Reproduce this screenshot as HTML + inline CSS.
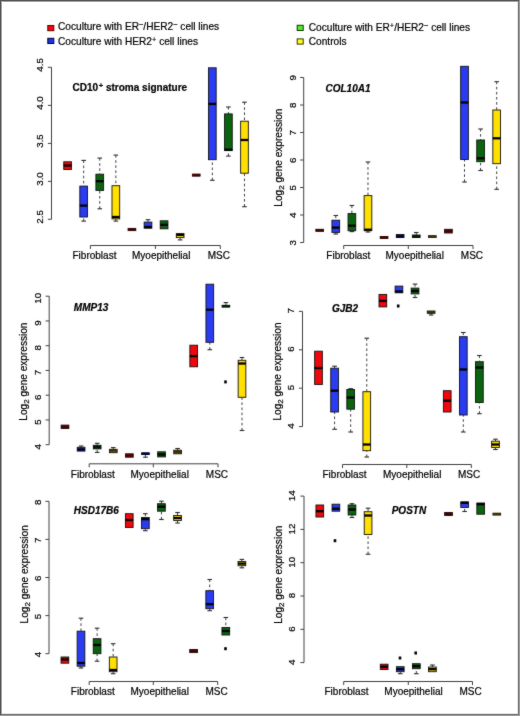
<!DOCTYPE html>
<html><head><meta charset="utf-8"><title>Boxplots</title>
<style>
html,body{margin:0;padding:0;background:#fff;}
body{width:520px;height:716px;overflow:hidden;position:relative;}
#w{position:absolute;left:0;top:0;width:520px;height:716px;will-change:transform;}
svg{position:absolute;left:0;top:0;display:block;font-family:"Liberation Sans", sans-serif;fill:#1a1a1a;}
svg text{fill:#000;stroke:#000;stroke-width:0.2px;}
</style></head>
<body>
<div id="w">
<svg width="520" height="716" viewBox="0 0 520 716">
<defs><filter id="bl" x="0" y="0" width="100%" height="100%" color-interpolation-filters="sRGB"><feConvolveMatrix order="3" kernelMatrix="1 2 1 2 28 2 1 2 1" edgeMode="duplicate" preserveAlpha="true"/></filter></defs>
<g filter="url(#bl)">
<rect x="0" y="0" width="520" height="716" fill="#fff"/>
<rect x="47.8" y="25.5" width="6" height="5.2" fill="#ff0010" stroke="#500" stroke-width="1"/>
<rect x="47.8" y="38.3" width="6" height="5.2" fill="#2030f0" stroke="#003" stroke-width="1"/>
<rect x="297.2" y="25.3" width="6" height="5.2" fill="#50f030" stroke="#130" stroke-width="1"/>
<rect x="297.2" y="38.9" width="6" height="5.2" fill="#ffff20" stroke="#330" stroke-width="1"/>
<text x="58" y="30.0" font-size="10.15">Coculture with ER<tspan font-size="7.4" dy="-3.0">−</tspan><tspan dy="3.0">/HER2</tspan><tspan font-size="7.4" dy="-3.0">−</tspan><tspan dy="3.0"> cell lines</tspan></text>
<text x="58" y="44.7" font-size="10.15">Coculture with HER2<tspan font-size="7.4" dy="-3.0">+</tspan><tspan dy="3.0"> cell lines</tspan></text>
<text x="308.8" y="30.5" font-size="10.15">Coculture with ER<tspan font-size="7.4" dy="-3.0">+</tspan><tspan dy="3.0">/HER2</tspan><tspan font-size="7.4" dy="-3.0">−</tspan><tspan dy="3.0"> cell lines</tspan></text>
<text x="308.8" y="45.2" font-size="10.15">Controls</text>
<path d="M51.5 67.3V219.3" stroke="#404040" stroke-width="1" fill="none"/>
<path d="M47.9 67.3H51.5" stroke="#404040" stroke-width="1"/>
<text x="43.3" y="64.9" transform="rotate(-90 43.3 64.9)" text-anchor="middle" font-size="9.75">4.5</text>
<path d="M47.9 105.4H51.5" stroke="#404040" stroke-width="1"/>
<text x="43.3" y="103" transform="rotate(-90 43.3 103)" text-anchor="middle" font-size="9.75">4.0</text>
<path d="M47.9 143.4H51.5" stroke="#404040" stroke-width="1"/>
<text x="43.3" y="141" transform="rotate(-90 43.3 141)" text-anchor="middle" font-size="9.75">3.5</text>
<path d="M47.9 181.4H51.5" stroke="#404040" stroke-width="1"/>
<text x="43.3" y="179" transform="rotate(-90 43.3 179)" text-anchor="middle" font-size="9.75">3.0</text>
<path d="M47.9 219.3H51.5" stroke="#404040" stroke-width="1"/>
<text x="43.3" y="216.9" transform="rotate(-90 43.3 216.9)" text-anchor="middle" font-size="9.75">2.5</text>
<path d="M90.4 249V245.5H220.3V249M155.4 245.5V249" stroke="#404040" stroke-width="1" fill="none"/>
<text x="72.5" y="258.8" font-size="10">Fibroblast</text>
<text x="132" y="258.8" font-size="10">Myoepithelial</text>
<text x="207.7" y="258.8" font-size="10">MSC</text>
<text x="72.5" y="90.9" font-size="10" font-weight="bold">CD10<tspan font-size="7.6" dx="0.7" dy="-2.6">+</tspan><tspan dy="2.6"> stroma signature</tspan></text>
<rect x="63.75" y="161.8" width="7.7" height="7.7" fill="#f0080c" stroke="#111" stroke-width="0.9"/>
<path d="M63.75 165.5H71.45" stroke="#000" stroke-width="2.3"/>
<path d="M83.68 160.4V186.1" stroke="#2a2a2a" stroke-width="0.9" stroke-dasharray="2.6 2.5" fill="none"/>
<path d="M81.38 160.4H85.98" stroke="#2a2a2a" stroke-width="1.1"/>
<path d="M83.68 221.1V217" stroke="#2a2a2a" stroke-width="0.9" stroke-dasharray="2.6 2.5" fill="none"/>
<path d="M81.38 221.1H85.98" stroke="#2a2a2a" stroke-width="1.1"/>
<rect x="79.83" y="186.1" width="7.7" height="30.9" fill="#2a3cf2" stroke="#111" stroke-width="0.9"/>
<path d="M79.83 205.6H87.53" stroke="#000" stroke-width="2.3"/>
<path d="M99.76 158.1V174.2" stroke="#2a2a2a" stroke-width="0.9" stroke-dasharray="2.6 2.5" fill="none"/>
<path d="M97.46 158.1H102.06" stroke="#2a2a2a" stroke-width="1.1"/>
<path d="M99.76 208.8V190.4" stroke="#2a2a2a" stroke-width="0.9" stroke-dasharray="2.6 2.5" fill="none"/>
<path d="M97.46 208.8H102.06" stroke="#2a2a2a" stroke-width="1.1"/>
<rect x="95.91" y="174.2" width="7.7" height="16.2" fill="#0a640f" stroke="#111" stroke-width="0.9"/>
<path d="M95.91 181.2H103.61" stroke="#000" stroke-width="2.3"/>
<path d="M115.84 155.1V185.7" stroke="#2a2a2a" stroke-width="0.9" stroke-dasharray="2.6 2.5" fill="none"/>
<path d="M113.54 155.1H118.14" stroke="#2a2a2a" stroke-width="1.1"/>
<path d="M115.84 221.1V218.9" stroke="#2a2a2a" stroke-width="0.9" stroke-dasharray="2.6 2.5" fill="none"/>
<path d="M113.54 221.1H118.14" stroke="#2a2a2a" stroke-width="1.1"/>
<rect x="111.99" y="185.7" width="7.7" height="33.2" fill="#ffe000" stroke="#111" stroke-width="0.9"/>
<path d="M111.99 217H119.69" stroke="#000" stroke-width="2.3"/>
<rect x="128.07" y="228.4" width="7.7" height="2.2" fill="#700a0a" stroke="#111" stroke-width="0.9"/>
<path d="M128.07 229.5H135.77" stroke="#4a0000" stroke-width="2.3"/>
<path d="M148 219.7V222.1" stroke="#2a2a2a" stroke-width="0.9" stroke-dasharray="2.6 2.5" fill="none"/>
<path d="M145.7 219.7H150.3" stroke="#2a2a2a" stroke-width="1.1"/>
<rect x="144.15" y="222.1" width="7.7" height="6.1" fill="#2a3cf2" stroke="#111" stroke-width="0.9"/>
<path d="M144.15 227H151.85" stroke="#000" stroke-width="2.3"/>
<rect x="160.23" y="220.8" width="7.7" height="8" fill="#0a640f" stroke="#111" stroke-width="0.9"/>
<path d="M160.23 224.8H167.93" stroke="#000" stroke-width="2.3"/>
<path d="M180.16 239.9V237.6" stroke="#2a2a2a" stroke-width="0.9" stroke-dasharray="2.6 2.5" fill="none"/>
<path d="M177.86 239.9H182.46" stroke="#2a2a2a" stroke-width="1.1"/>
<rect x="176.31" y="233.6" width="7.7" height="4" fill="#ffe000" stroke="#111" stroke-width="0.9"/>
<path d="M176.31 234.9H184.01" stroke="#000" stroke-width="2.3"/>
<rect x="192.39" y="174.1" width="7.7" height="2" fill="#700a0a" stroke="#111" stroke-width="0.9"/>
<path d="M192.39 175.1H200.09" stroke="#4a0000" stroke-width="2.3"/>
<path d="M212.32 180.3V159.7" stroke="#2a2a2a" stroke-width="0.9" stroke-dasharray="2.6 2.5" fill="none"/>
<path d="M210.02 180.3H214.62" stroke="#2a2a2a" stroke-width="1.1"/>
<rect x="208.47" y="67.8" width="7.7" height="91.9" fill="#2a3cf2" stroke="#111" stroke-width="0.9"/>
<path d="M208.47 103.9H216.17" stroke="#000" stroke-width="2.3"/>
<path d="M228.4 107V113.9" stroke="#2a2a2a" stroke-width="0.9" stroke-dasharray="2.6 2.5" fill="none"/>
<path d="M226.1 107H230.7" stroke="#2a2a2a" stroke-width="1.1"/>
<path d="M228.4 156.1V150.6" stroke="#2a2a2a" stroke-width="0.9" stroke-dasharray="2.6 2.5" fill="none"/>
<path d="M226.1 156.1H230.7" stroke="#2a2a2a" stroke-width="1.1"/>
<rect x="224.55" y="113.9" width="7.7" height="36.7" fill="#0a640f" stroke="#111" stroke-width="0.9"/>
<path d="M224.55 149.7H232.25" stroke="#000" stroke-width="2.3"/>
<path d="M244.48 102.2V121.2" stroke="#2a2a2a" stroke-width="0.9" stroke-dasharray="2.6 2.5" fill="none"/>
<path d="M242.18 102.2H246.78" stroke="#2a2a2a" stroke-width="1.1"/>
<path d="M244.48 206.7V173.2" stroke="#2a2a2a" stroke-width="0.9" stroke-dasharray="2.6 2.5" fill="none"/>
<path d="M242.18 206.7H246.78" stroke="#2a2a2a" stroke-width="1.1"/>
<rect x="240.63" y="121.2" width="7.7" height="52" fill="#ffe000" stroke="#111" stroke-width="0.9"/>
<path d="M240.63 140H248.33" stroke="#000" stroke-width="2.3"/>
<path d="M303.7 77.5V242.5" stroke="#404040" stroke-width="1" fill="none"/>
<path d="M300.1 242.5H303.7" stroke="#404040" stroke-width="1"/>
<text x="295.6" y="242.8" transform="rotate(-90 295.6 242.8)" text-anchor="middle" font-size="9.75">3</text>
<path d="M300.1 215H303.7" stroke="#404040" stroke-width="1"/>
<text x="295.6" y="215.3" transform="rotate(-90 295.6 215.3)" text-anchor="middle" font-size="9.75">4</text>
<path d="M300.1 187.5H303.7" stroke="#404040" stroke-width="1"/>
<text x="295.6" y="187.8" transform="rotate(-90 295.6 187.8)" text-anchor="middle" font-size="9.75">5</text>
<path d="M300.1 160H303.7" stroke="#404040" stroke-width="1"/>
<text x="295.6" y="160.3" transform="rotate(-90 295.6 160.3)" text-anchor="middle" font-size="9.75">6</text>
<path d="M300.1 132.5H303.7" stroke="#404040" stroke-width="1"/>
<text x="295.6" y="132.8" transform="rotate(-90 295.6 132.8)" text-anchor="middle" font-size="9.75">7</text>
<path d="M300.1 105H303.7" stroke="#404040" stroke-width="1"/>
<text x="295.6" y="105.3" transform="rotate(-90 295.6 105.3)" text-anchor="middle" font-size="9.75">8</text>
<path d="M300.1 77.5H303.7" stroke="#404040" stroke-width="1"/>
<text x="295.6" y="77.8" transform="rotate(-90 295.6 77.8)" text-anchor="middle" font-size="9.75">9</text>
<text x="281.8" y="157.6" transform="rotate(-90 281.8 157.6)" text-anchor="middle" font-size="10.1">Log<tspan font-size="8" dy="1.9">2</tspan><tspan dy="-1.9"> gene expression</tspan></text>
<path d="M343.7 249V245.5H473V249M408.3 245.5V249" stroke="#404040" stroke-width="1" fill="none"/>
<text x="326.3" y="258.8" font-size="10">Fibroblast</text>
<text x="385.5" y="258.8" font-size="10">Myoepithelial</text>
<text x="460.8" y="258.8" font-size="10">MSC</text>
<text x="325.5" y="91.7" font-size="10" font-weight="bold" font-style="italic">COL10A1</text>
<rect x="315.85" y="229.3" width="7.7" height="2" fill="#700a0a" stroke="#111" stroke-width="0.9"/>
<path d="M315.85 230.3H323.55" stroke="#4a0000" stroke-width="2.3"/>
<path d="M335.79 215.5V220.2" stroke="#2a2a2a" stroke-width="0.9" stroke-dasharray="2.6 2.5" fill="none"/>
<path d="M333.49 215.5H338.09" stroke="#2a2a2a" stroke-width="1.1"/>
<path d="M335.79 234V232.4" stroke="#2a2a2a" stroke-width="0.9" stroke-dasharray="2.6 2.5" fill="none"/>
<path d="M333.49 234H338.09" stroke="#2a2a2a" stroke-width="1.1"/>
<rect x="331.94" y="220.2" width="7.7" height="12.2" fill="#2a3cf2" stroke="#111" stroke-width="0.9"/>
<path d="M331.94 227.6H339.64" stroke="#000" stroke-width="2.3"/>
<path d="M351.88 205.5V213.6" stroke="#2a2a2a" stroke-width="0.9" stroke-dasharray="2.6 2.5" fill="none"/>
<path d="M349.58 205.5H354.18" stroke="#2a2a2a" stroke-width="1.1"/>
<path d="M351.88 231.6V230.7" stroke="#2a2a2a" stroke-width="0.9" stroke-dasharray="2.6 2.5" fill="none"/>
<path d="M349.58 231.6H354.18" stroke="#2a2a2a" stroke-width="1.1"/>
<rect x="348.03" y="213.6" width="7.7" height="17.1" fill="#0a640f" stroke="#111" stroke-width="0.9"/>
<path d="M348.03 225.7H355.73" stroke="#000" stroke-width="2.3"/>
<path d="M367.97 162V195.6" stroke="#2a2a2a" stroke-width="0.9" stroke-dasharray="2.6 2.5" fill="none"/>
<path d="M365.67 162H370.27" stroke="#2a2a2a" stroke-width="1.1"/>
<path d="M367.97 232V230.7" stroke="#2a2a2a" stroke-width="0.9" stroke-dasharray="2.6 2.5" fill="none"/>
<path d="M365.67 232H370.27" stroke="#2a2a2a" stroke-width="1.1"/>
<rect x="364.12" y="195.6" width="7.7" height="35.1" fill="#ffe000" stroke="#111" stroke-width="0.9"/>
<path d="M364.12 229.7H371.82" stroke="#000" stroke-width="2.3"/>
<rect x="380.21" y="236.5" width="7.7" height="2" fill="#700a0a" stroke="#111" stroke-width="0.9"/>
<path d="M380.21 237.5H387.91" stroke="#4a0000" stroke-width="2.3"/>
<rect x="396.3" y="234.5" width="7.7" height="3" fill="#141a70" stroke="#111" stroke-width="0.9"/>
<path d="M396.3 236.5H404" stroke="#00003e" stroke-width="2.3"/>
<path d="M416.24 232.5V235" stroke="#2a2a2a" stroke-width="0.9" stroke-dasharray="2.6 2.5" fill="none"/>
<path d="M413.94 232.5H418.54" stroke="#2a2a2a" stroke-width="1.1"/>
<rect x="412.39" y="235" width="7.7" height="2.5" fill="#053805" stroke="#111" stroke-width="0.9"/>
<path d="M412.39 236.8H420.09" stroke="#001a00" stroke-width="2.3"/>
<rect x="428.48" y="235.7" width="7.7" height="1.8" fill="#7a6a00" stroke="#111" stroke-width="0.9"/>
<path d="M428.48 236.8H436.18" stroke="#3a3000" stroke-width="2.3"/>
<rect x="444.57" y="229.3" width="7.7" height="3.7" fill="#700a0a" stroke="#111" stroke-width="0.9"/>
<path d="M444.57 231H452.27" stroke="#4a0000" stroke-width="2.3"/>
<path d="M464.51 182V159.5" stroke="#2a2a2a" stroke-width="0.9" stroke-dasharray="2.6 2.5" fill="none"/>
<path d="M462.21 182H466.81" stroke="#2a2a2a" stroke-width="1.1"/>
<rect x="460.66" y="66.3" width="7.7" height="93.2" fill="#2a3cf2" stroke="#111" stroke-width="0.9"/>
<path d="M460.66 102.5H468.36" stroke="#000" stroke-width="2.3"/>
<path d="M480.6 129V140" stroke="#2a2a2a" stroke-width="0.9" stroke-dasharray="2.6 2.5" fill="none"/>
<path d="M478.3 129H482.9" stroke="#2a2a2a" stroke-width="1.1"/>
<path d="M480.6 170.5V161.7" stroke="#2a2a2a" stroke-width="0.9" stroke-dasharray="2.6 2.5" fill="none"/>
<path d="M478.3 170.5H482.9" stroke="#2a2a2a" stroke-width="1.1"/>
<rect x="476.75" y="140" width="7.7" height="21.7" fill="#0a640f" stroke="#111" stroke-width="0.9"/>
<path d="M476.75 158.3H484.45" stroke="#000" stroke-width="2.3"/>
<path d="M496.69 81.7V110" stroke="#2a2a2a" stroke-width="0.9" stroke-dasharray="2.6 2.5" fill="none"/>
<path d="M494.39 81.7H498.99" stroke="#2a2a2a" stroke-width="1.1"/>
<path d="M496.69 189.3V163.7" stroke="#2a2a2a" stroke-width="0.9" stroke-dasharray="2.6 2.5" fill="none"/>
<path d="M494.39 189.3H498.99" stroke="#2a2a2a" stroke-width="1.1"/>
<rect x="492.84" y="110" width="7.7" height="53.7" fill="#ffe000" stroke="#111" stroke-width="0.9"/>
<path d="M492.84 138.3H500.54" stroke="#000" stroke-width="2.3"/>
<path d="M49.2 296.2V444.7" stroke="#404040" stroke-width="1" fill="none"/>
<path d="M45.6 444.7H49.2" stroke="#404040" stroke-width="1"/>
<text x="41" y="446.7" transform="rotate(-90 41 446.7)" text-anchor="middle" font-size="9.75">4</text>
<path d="M45.6 419.95H49.2" stroke="#404040" stroke-width="1"/>
<text x="41" y="421.95" transform="rotate(-90 41 421.95)" text-anchor="middle" font-size="9.75">5</text>
<path d="M45.6 395.2H49.2" stroke="#404040" stroke-width="1"/>
<text x="41" y="397.2" transform="rotate(-90 41 397.2)" text-anchor="middle" font-size="9.75">6</text>
<path d="M45.6 370.45H49.2" stroke="#404040" stroke-width="1"/>
<text x="41" y="372.45" transform="rotate(-90 41 372.45)" text-anchor="middle" font-size="9.75">7</text>
<path d="M45.6 345.7H49.2" stroke="#404040" stroke-width="1"/>
<text x="41" y="347.7" transform="rotate(-90 41 347.7)" text-anchor="middle" font-size="9.75">8</text>
<path d="M45.6 320.95H49.2" stroke="#404040" stroke-width="1"/>
<text x="41" y="322.95" transform="rotate(-90 41 322.95)" text-anchor="middle" font-size="9.75">9</text>
<path d="M45.6 296.2H49.2" stroke="#404040" stroke-width="1"/>
<text x="41" y="298.2" transform="rotate(-90 41 298.2)" text-anchor="middle" font-size="9.75">10</text>
<text x="26.9" y="371.6" transform="rotate(-90 26.9 371.6)" text-anchor="middle" font-size="10.1">Log<tspan font-size="8" dy="1.9">2</tspan><tspan dy="-1.9"> gene expression</tspan></text>
<path d="M89.2 467.3V463.8H218V467.3M153.3 463.8V467.3" stroke="#404040" stroke-width="1" fill="none"/>
<text x="70.8" y="477.5" font-size="10">Fibroblast</text>
<text x="130.5" y="477.5" font-size="10">Myoepithelial</text>
<text x="205.8" y="477.5" font-size="10">MSC</text>
<text x="73.8" y="311.3" font-size="10" font-weight="bold" font-style="italic">MMP13</text>
<rect x="61.15" y="425.1" width="7.7" height="3.4" fill="#700a0a" stroke="#111" stroke-width="0.9"/>
<path d="M61.15 426.8H68.85" stroke="#4a0000" stroke-width="2.3"/>
<path d="M81.09 446V447.3" stroke="#2a2a2a" stroke-width="0.9" stroke-dasharray="2.6 2.5" fill="none"/>
<path d="M78.79 446H83.39" stroke="#2a2a2a" stroke-width="1.1"/>
<rect x="77.24" y="447.3" width="7.7" height="3.8" fill="#2a3cf2" stroke="#111" stroke-width="0.9"/>
<path d="M77.24 449.5H84.94" stroke="#000" stroke-width="2.3"/>
<path d="M97.18 443.3V445.3" stroke="#2a2a2a" stroke-width="0.9" stroke-dasharray="2.6 2.5" fill="none"/>
<path d="M94.88 443.3H99.48" stroke="#2a2a2a" stroke-width="1.1"/>
<path d="M97.18 452.4V448.9" stroke="#2a2a2a" stroke-width="0.9" stroke-dasharray="2.6 2.5" fill="none"/>
<path d="M94.88 452.4H99.48" stroke="#2a2a2a" stroke-width="1.1"/>
<rect x="93.33" y="445.3" width="7.7" height="3.6" fill="#053805" stroke="#111" stroke-width="0.9"/>
<path d="M93.33 446.9H101.03" stroke="#001a00" stroke-width="2.3"/>
<path d="M113.27 447.6V449.3" stroke="#2a2a2a" stroke-width="0.9" stroke-dasharray="2.6 2.5" fill="none"/>
<path d="M110.97 447.6H115.57" stroke="#2a2a2a" stroke-width="1.1"/>
<rect x="109.42" y="449.3" width="7.7" height="3.4" fill="#7a6a00" stroke="#111" stroke-width="0.9"/>
<path d="M109.42 450.4H117.12" stroke="#3a3000" stroke-width="2.3"/>
<rect x="125.51" y="453.8" width="7.7" height="3.4" fill="#700a0a" stroke="#111" stroke-width="0.9"/>
<path d="M125.51 455.5H133.21" stroke="#4a0000" stroke-width="2.3"/>
<path d="M145.45 457.2V454.5" stroke="#2a2a2a" stroke-width="0.9" stroke-dasharray="2.6 2.5" fill="none"/>
<path d="M143.15 457.2H147.75" stroke="#2a2a2a" stroke-width="1.1"/>
<rect x="141.6" y="452.9" width="7.7" height="1.6" fill="#141a70" stroke="#111" stroke-width="0.9"/>
<path d="M141.6 453.7H149.3" stroke="#00003e" stroke-width="2.3"/>
<rect x="157.69" y="451.8" width="7.7" height="5.1" fill="#0a640f" stroke="#111" stroke-width="0.9"/>
<path d="M157.69 454.5H165.39" stroke="#000" stroke-width="2.3"/>
<path d="M177.63 448.5V450.2" stroke="#2a2a2a" stroke-width="0.9" stroke-dasharray="2.6 2.5" fill="none"/>
<path d="M175.33 448.5H179.93" stroke="#2a2a2a" stroke-width="1.1"/>
<rect x="173.78" y="450.2" width="7.7" height="3.6" fill="#7a6a00" stroke="#111" stroke-width="0.9"/>
<path d="M173.78 451.8H181.48" stroke="#3a3000" stroke-width="2.3"/>
<rect x="189.87" y="345.2" width="7.7" height="21.6" fill="#f0080c" stroke="#111" stroke-width="0.9"/>
<path d="M189.87 356.1H197.57" stroke="#000" stroke-width="2.3"/>
<path d="M209.81 349.7V342.3" stroke="#2a2a2a" stroke-width="0.9" stroke-dasharray="2.6 2.5" fill="none"/>
<path d="M207.51 349.7H212.11" stroke="#2a2a2a" stroke-width="1.1"/>
<rect x="205.96" y="284.2" width="7.7" height="58.1" fill="#2a3cf2" stroke="#111" stroke-width="0.9"/>
<path d="M205.96 309.7H213.66" stroke="#000" stroke-width="2.3"/>
<path d="M225.9 302.6V305.3" stroke="#2a2a2a" stroke-width="0.9" stroke-dasharray="2.6 2.5" fill="none"/>
<path d="M223.6 302.6H228.2" stroke="#2a2a2a" stroke-width="1.1"/>
<rect x="222.05" y="305.3" width="7.7" height="1.7" fill="#053805" stroke="#111" stroke-width="0.9"/>
<path d="M222.05 306.2H229.75" stroke="#001a00" stroke-width="2.3"/>
<path d="M241.99 357.5V360.3" stroke="#2a2a2a" stroke-width="0.9" stroke-dasharray="2.6 2.5" fill="none"/>
<path d="M239.69 357.5H244.29" stroke="#2a2a2a" stroke-width="1.1"/>
<path d="M241.99 430.5V397.3" stroke="#2a2a2a" stroke-width="0.9" stroke-dasharray="2.6 2.5" fill="none"/>
<path d="M239.69 430.5H244.29" stroke="#2a2a2a" stroke-width="1.1"/>
<rect x="238.14" y="360.3" width="7.7" height="37" fill="#ffe000" stroke="#111" stroke-width="0.9"/>
<path d="M238.14 363.5H245.84" stroke="#000" stroke-width="2.3"/>
<rect x="224.2" y="380.4" width="2.6" height="3" fill="#000"/>
<path d="M302.5 311.4V426.6" stroke="#404040" stroke-width="1" fill="none"/>
<path d="M298.9 426.6H302.5" stroke="#404040" stroke-width="1"/>
<text x="294.2" y="425.9" transform="rotate(-90 294.2 425.9)" text-anchor="middle" font-size="9.75">4</text>
<path d="M298.9 388.2H302.5" stroke="#404040" stroke-width="1"/>
<text x="294.2" y="387.5" transform="rotate(-90 294.2 387.5)" text-anchor="middle" font-size="9.75">5</text>
<path d="M298.9 349.8H302.5" stroke="#404040" stroke-width="1"/>
<text x="294.2" y="349.1" transform="rotate(-90 294.2 349.1)" text-anchor="middle" font-size="9.75">6</text>
<path d="M298.9 311.4H302.5" stroke="#404040" stroke-width="1"/>
<text x="294.2" y="310.7" transform="rotate(-90 294.2 310.7)" text-anchor="middle" font-size="9.75">7</text>
<text x="280.8" y="371.5" transform="rotate(-90 280.8 371.5)" text-anchor="middle" font-size="10.1">Log<tspan font-size="8" dy="1.9">2</tspan><tspan dy="-1.9"> gene expression</tspan></text>
<path d="M342.5 468V464.5H471.3V468M406.8 464.5V468" stroke="#404040" stroke-width="1" fill="none"/>
<text x="322.5" y="477.7" font-size="10">Fibroblast</text>
<text x="383" y="477.7" font-size="10">Myoepithelial</text>
<text x="458" y="477.7" font-size="10">MSC</text>
<text x="332" y="311.8" font-size="10" font-weight="bold" font-style="italic">GJB2</text>
<rect x="314.65" y="351.2" width="7.7" height="33.3" fill="#f0080c" stroke="#111" stroke-width="0.9"/>
<path d="M314.65 368H322.35" stroke="#000" stroke-width="2.3"/>
<path d="M334.59 366.2V368.2" stroke="#2a2a2a" stroke-width="0.9" stroke-dasharray="2.6 2.5" fill="none"/>
<path d="M332.29 366.2H336.89" stroke="#2a2a2a" stroke-width="1.1"/>
<path d="M334.59 429.3V412" stroke="#2a2a2a" stroke-width="0.9" stroke-dasharray="2.6 2.5" fill="none"/>
<path d="M332.29 429.3H336.89" stroke="#2a2a2a" stroke-width="1.1"/>
<rect x="330.74" y="368.2" width="7.7" height="43.8" fill="#2a3cf2" stroke="#111" stroke-width="0.9"/>
<path d="M330.74 390.7H338.44" stroke="#000" stroke-width="2.3"/>
<path d="M350.68 388.7V389.5" stroke="#2a2a2a" stroke-width="0.9" stroke-dasharray="2.6 2.5" fill="none"/>
<path d="M348.38 388.7H352.98" stroke="#2a2a2a" stroke-width="1.1"/>
<path d="M350.68 432V409.2" stroke="#2a2a2a" stroke-width="0.9" stroke-dasharray="2.6 2.5" fill="none"/>
<path d="M348.38 432H352.98" stroke="#2a2a2a" stroke-width="1.1"/>
<rect x="346.83" y="389.5" width="7.7" height="19.7" fill="#0a640f" stroke="#111" stroke-width="0.9"/>
<path d="M346.83 397.5H354.53" stroke="#000" stroke-width="2.3"/>
<path d="M366.77 338.2V391.7" stroke="#2a2a2a" stroke-width="0.9" stroke-dasharray="2.6 2.5" fill="none"/>
<path d="M364.47 338.2H369.07" stroke="#2a2a2a" stroke-width="1.1"/>
<path d="M366.77 457V450.7" stroke="#2a2a2a" stroke-width="0.9" stroke-dasharray="2.6 2.5" fill="none"/>
<path d="M364.47 457H369.07" stroke="#2a2a2a" stroke-width="1.1"/>
<rect x="362.92" y="391.7" width="7.7" height="59" fill="#ffe000" stroke="#111" stroke-width="0.9"/>
<path d="M362.92 444.5H370.62" stroke="#000" stroke-width="2.3"/>
<rect x="379.01" y="294.4" width="7.7" height="12.5" fill="#f0080c" stroke="#111" stroke-width="0.9"/>
<path d="M379.01 300.9H386.71" stroke="#000" stroke-width="2.3"/>
<rect x="395.1" y="286.1" width="7.7" height="6.7" fill="#2a3cf2" stroke="#111" stroke-width="0.9"/>
<path d="M395.1 291.5H402.8" stroke="#000" stroke-width="2.3"/>
<path d="M415.04 284.1V288.1" stroke="#2a2a2a" stroke-width="0.9" stroke-dasharray="2.6 2.5" fill="none"/>
<path d="M412.74 284.1H417.34" stroke="#2a2a2a" stroke-width="1.1"/>
<path d="M415.04 297.5V293.9" stroke="#2a2a2a" stroke-width="0.9" stroke-dasharray="2.6 2.5" fill="none"/>
<path d="M412.74 297.5H417.34" stroke="#2a2a2a" stroke-width="1.1"/>
<rect x="411.19" y="288.1" width="7.7" height="5.8" fill="#0a640f" stroke="#111" stroke-width="0.9"/>
<path d="M411.19 291H418.89" stroke="#000" stroke-width="2.3"/>
<path d="M431.13 315V313.3" stroke="#2a2a2a" stroke-width="0.9" stroke-dasharray="2.6 2.5" fill="none"/>
<path d="M428.83 315H433.43" stroke="#2a2a2a" stroke-width="1.1"/>
<rect x="427.28" y="311" width="7.7" height="2.3" fill="#7a6a00" stroke="#111" stroke-width="0.9"/>
<path d="M427.28 312.2H434.98" stroke="#3a3000" stroke-width="2.3"/>
<rect x="443.37" y="390.7" width="7.7" height="21.3" fill="#f0080c" stroke="#111" stroke-width="0.9"/>
<path d="M443.37 400.7H451.07" stroke="#000" stroke-width="2.3"/>
<path d="M463.31 332.5V336.7" stroke="#2a2a2a" stroke-width="0.9" stroke-dasharray="2.6 2.5" fill="none"/>
<path d="M461.01 332.5H465.61" stroke="#2a2a2a" stroke-width="1.1"/>
<path d="M463.31 432V415" stroke="#2a2a2a" stroke-width="0.9" stroke-dasharray="2.6 2.5" fill="none"/>
<path d="M461.01 432H465.61" stroke="#2a2a2a" stroke-width="1.1"/>
<rect x="459.46" y="336.7" width="7.7" height="78.3" fill="#2a3cf2" stroke="#111" stroke-width="0.9"/>
<path d="M459.46 369.5H467.16" stroke="#000" stroke-width="2.3"/>
<path d="M479.4 355.5V361.7" stroke="#2a2a2a" stroke-width="0.9" stroke-dasharray="2.6 2.5" fill="none"/>
<path d="M477.1 355.5H481.7" stroke="#2a2a2a" stroke-width="1.1"/>
<path d="M479.4 413.7V402.5" stroke="#2a2a2a" stroke-width="0.9" stroke-dasharray="2.6 2.5" fill="none"/>
<path d="M477.1 413.7H481.7" stroke="#2a2a2a" stroke-width="1.1"/>
<rect x="475.55" y="361.7" width="7.7" height="40.8" fill="#0a640f" stroke="#111" stroke-width="0.9"/>
<path d="M475.55 367.5H483.25" stroke="#000" stroke-width="2.3"/>
<path d="M495.49 439.2V441.2" stroke="#2a2a2a" stroke-width="0.9" stroke-dasharray="2.6 2.5" fill="none"/>
<path d="M493.19 439.2H497.79" stroke="#2a2a2a" stroke-width="1.1"/>
<path d="M495.49 449.5V447.5" stroke="#2a2a2a" stroke-width="0.9" stroke-dasharray="2.6 2.5" fill="none"/>
<path d="M493.19 449.5H497.79" stroke="#2a2a2a" stroke-width="1.1"/>
<rect x="491.64" y="441.2" width="7.7" height="6.3" fill="#ffe000" stroke="#111" stroke-width="0.9"/>
<path d="M491.64 444.5H499.34" stroke="#000" stroke-width="2.3"/>
<rect x="396.9" y="304.5" width="2.6" height="3" fill="#000"/>
<path d="M49 501.3V653.7" stroke="#404040" stroke-width="1" fill="none"/>
<path d="M45.4 653.7H49" stroke="#404040" stroke-width="1"/>
<text x="41" y="654.6" transform="rotate(-90 41 654.6)" text-anchor="middle" font-size="9.75">4</text>
<path d="M45.4 615.6H49" stroke="#404040" stroke-width="1"/>
<text x="41" y="616.5" transform="rotate(-90 41 616.5)" text-anchor="middle" font-size="9.75">5</text>
<path d="M45.4 577.5H49" stroke="#404040" stroke-width="1"/>
<text x="41" y="578.4" transform="rotate(-90 41 578.4)" text-anchor="middle" font-size="9.75">6</text>
<path d="M45.4 539.4H49" stroke="#404040" stroke-width="1"/>
<text x="41" y="540.3" transform="rotate(-90 41 540.3)" text-anchor="middle" font-size="9.75">7</text>
<path d="M45.4 501.3H49" stroke="#404040" stroke-width="1"/>
<text x="41" y="502.2" transform="rotate(-90 41 502.2)" text-anchor="middle" font-size="9.75">8</text>
<text x="27.8" y="574.3" transform="rotate(-90 27.8 574.3)" text-anchor="middle" font-size="10.1">Log<tspan font-size="8" dy="1.9">2</tspan><tspan dy="-1.9"> gene expression</tspan></text>
<path d="M89.2 685V681.5H217.7V685M153.3 681.5V685" stroke="#404040" stroke-width="1" fill="none"/>
<text x="70.8" y="694.8" font-size="10">Fibroblast</text>
<text x="130.5" y="694.8" font-size="10">Myoepithelial</text>
<text x="205.5" y="694.8" font-size="10">MSC</text>
<text x="73.8" y="514.2" font-size="10" font-weight="bold" font-style="italic">HSD17B6</text>
<rect x="61.05" y="657" width="7.7" height="6.2" fill="#f0080c" stroke="#111" stroke-width="0.9"/>
<path d="M61.05 659.5H68.75" stroke="#000" stroke-width="2.3"/>
<path d="M80.99 618.2V631.2" stroke="#2a2a2a" stroke-width="0.9" stroke-dasharray="2.6 2.5" fill="none"/>
<path d="M78.69 618.2H83.29" stroke="#2a2a2a" stroke-width="1.1"/>
<path d="M80.99 668V666.2" stroke="#2a2a2a" stroke-width="0.9" stroke-dasharray="2.6 2.5" fill="none"/>
<path d="M78.69 668H83.29" stroke="#2a2a2a" stroke-width="1.1"/>
<rect x="77.14" y="631.2" width="7.7" height="35" fill="#2a3cf2" stroke="#111" stroke-width="0.9"/>
<path d="M77.14 663H84.84" stroke="#000" stroke-width="2.3"/>
<path d="M97.08 628.2V638.7" stroke="#2a2a2a" stroke-width="0.9" stroke-dasharray="2.6 2.5" fill="none"/>
<path d="M94.78 628.2H99.38" stroke="#2a2a2a" stroke-width="1.1"/>
<path d="M97.08 661.2V653.7" stroke="#2a2a2a" stroke-width="0.9" stroke-dasharray="2.6 2.5" fill="none"/>
<path d="M94.78 661.2H99.38" stroke="#2a2a2a" stroke-width="1.1"/>
<rect x="93.23" y="638.7" width="7.7" height="15" fill="#0a640f" stroke="#111" stroke-width="0.9"/>
<path d="M93.23 645H100.93" stroke="#000" stroke-width="2.3"/>
<path d="M113.17 643.7V657" stroke="#2a2a2a" stroke-width="0.9" stroke-dasharray="2.6 2.5" fill="none"/>
<path d="M110.87 643.7H115.47" stroke="#2a2a2a" stroke-width="1.1"/>
<path d="M113.17 673.7V671.7" stroke="#2a2a2a" stroke-width="0.9" stroke-dasharray="2.6 2.5" fill="none"/>
<path d="M110.87 673.7H115.47" stroke="#2a2a2a" stroke-width="1.1"/>
<rect x="109.32" y="657" width="7.7" height="14.7" fill="#ffe000" stroke="#111" stroke-width="0.9"/>
<path d="M109.32 670H117.02" stroke="#000" stroke-width="2.3"/>
<rect x="125.41" y="513.7" width="7.7" height="13.8" fill="#f0080c" stroke="#111" stroke-width="0.9"/>
<path d="M125.41 520H133.11" stroke="#000" stroke-width="2.3"/>
<path d="M145.35 513.7V517.5" stroke="#2a2a2a" stroke-width="0.9" stroke-dasharray="2.6 2.5" fill="none"/>
<path d="M143.05 513.7H147.65" stroke="#2a2a2a" stroke-width="1.1"/>
<path d="M145.35 530.7V528.7" stroke="#2a2a2a" stroke-width="0.9" stroke-dasharray="2.6 2.5" fill="none"/>
<path d="M143.05 530.7H147.65" stroke="#2a2a2a" stroke-width="1.1"/>
<rect x="141.5" y="517.5" width="7.7" height="11.2" fill="#2a3cf2" stroke="#111" stroke-width="0.9"/>
<path d="M141.5 519.2H149.2" stroke="#000" stroke-width="2.3"/>
<path d="M161.44 501.2V503.7" stroke="#2a2a2a" stroke-width="0.9" stroke-dasharray="2.6 2.5" fill="none"/>
<path d="M159.14 501.2H163.74" stroke="#2a2a2a" stroke-width="1.1"/>
<path d="M161.44 519.5V511.2" stroke="#2a2a2a" stroke-width="0.9" stroke-dasharray="2.6 2.5" fill="none"/>
<path d="M159.14 519.5H163.74" stroke="#2a2a2a" stroke-width="1.1"/>
<rect x="157.59" y="503.7" width="7.7" height="7.5" fill="#0a640f" stroke="#111" stroke-width="0.9"/>
<path d="M157.59 506.7H165.29" stroke="#000" stroke-width="2.3"/>
<path d="M177.53 512.5V515.5" stroke="#2a2a2a" stroke-width="0.9" stroke-dasharray="2.6 2.5" fill="none"/>
<path d="M175.23 512.5H179.83" stroke="#2a2a2a" stroke-width="1.1"/>
<path d="M177.53 523V520.5" stroke="#2a2a2a" stroke-width="0.9" stroke-dasharray="2.6 2.5" fill="none"/>
<path d="M175.23 523H179.83" stroke="#2a2a2a" stroke-width="1.1"/>
<rect x="173.68" y="515.5" width="7.7" height="5" fill="#ffe000" stroke="#111" stroke-width="0.9"/>
<path d="M173.68 518H181.38" stroke="#000" stroke-width="2.3"/>
<rect x="189.77" y="649.5" width="7.7" height="3.1" fill="#700a0a" stroke="#111" stroke-width="0.9"/>
<path d="M189.77 651H197.47" stroke="#4a0000" stroke-width="2.3"/>
<path d="M209.71 579.5V590.7" stroke="#2a2a2a" stroke-width="0.9" stroke-dasharray="2.6 2.5" fill="none"/>
<path d="M207.41 579.5H212.01" stroke="#2a2a2a" stroke-width="1.1"/>
<path d="M209.71 610.7V608.7" stroke="#2a2a2a" stroke-width="0.9" stroke-dasharray="2.6 2.5" fill="none"/>
<path d="M207.41 610.7H212.01" stroke="#2a2a2a" stroke-width="1.1"/>
<rect x="205.86" y="590.7" width="7.7" height="18" fill="#2a3cf2" stroke="#111" stroke-width="0.9"/>
<path d="M205.86 604.2H213.56" stroke="#000" stroke-width="2.3"/>
<path d="M225.8 617.5V627.5" stroke="#2a2a2a" stroke-width="0.9" stroke-dasharray="2.6 2.5" fill="none"/>
<path d="M223.5 617.5H228.1" stroke="#2a2a2a" stroke-width="1.1"/>
<rect x="221.95" y="627.5" width="7.7" height="7.5" fill="#0a640f" stroke="#111" stroke-width="0.9"/>
<path d="M221.95 631H229.65" stroke="#000" stroke-width="2.3"/>
<path d="M241.89 559.4V561.5" stroke="#2a2a2a" stroke-width="0.9" stroke-dasharray="2.6 2.5" fill="none"/>
<path d="M239.59 559.4H244.19" stroke="#2a2a2a" stroke-width="1.1"/>
<path d="M241.89 567.8V565.7" stroke="#2a2a2a" stroke-width="0.9" stroke-dasharray="2.6 2.5" fill="none"/>
<path d="M239.59 567.8H244.19" stroke="#2a2a2a" stroke-width="1.1"/>
<rect x="238.04" y="561.5" width="7.7" height="4.2" fill="#ffe000" stroke="#111" stroke-width="0.9"/>
<path d="M238.04 563.6H245.74" stroke="#000" stroke-width="2.3"/>
<rect x="224.2" y="647.2" width="2.6" height="3" fill="#000"/>
<path d="M304 496.1V662.6" stroke="#404040" stroke-width="1" fill="none"/>
<path d="M300.4 662.6H304" stroke="#404040" stroke-width="1"/>
<text x="295.4" y="662.2" transform="rotate(-90 295.4 662.2)" text-anchor="middle" font-size="9.75">4</text>
<path d="M300.4 629.3H304" stroke="#404040" stroke-width="1"/>
<text x="295.4" y="628.9" transform="rotate(-90 295.4 628.9)" text-anchor="middle" font-size="9.75">6</text>
<path d="M300.4 596H304" stroke="#404040" stroke-width="1"/>
<text x="295.4" y="595.6" transform="rotate(-90 295.4 595.6)" text-anchor="middle" font-size="9.75">8</text>
<path d="M300.4 562.7H304" stroke="#404040" stroke-width="1"/>
<text x="295.4" y="562.3" transform="rotate(-90 295.4 562.3)" text-anchor="middle" font-size="9.75">10</text>
<path d="M300.4 529.4H304" stroke="#404040" stroke-width="1"/>
<text x="295.4" y="529" transform="rotate(-90 295.4 529)" text-anchor="middle" font-size="9.75">12</text>
<path d="M300.4 496.1H304" stroke="#404040" stroke-width="1"/>
<text x="295.4" y="495.7" transform="rotate(-90 295.4 495.7)" text-anchor="middle" font-size="9.75">14</text>
<text x="282.4" y="574.7" transform="rotate(-90 282.4 574.7)" text-anchor="middle" font-size="10.1">Log<tspan font-size="8" dy="1.9">2</tspan><tspan dy="-1.9"> gene expression</tspan></text>
<path d="M343.7 685V681.5H472.5V685M408.3 681.5V685" stroke="#404040" stroke-width="1" fill="none"/>
<text x="324.5" y="694.5" font-size="10">Fibroblast</text>
<text x="384.3" y="694.5" font-size="10">Myoepithelial</text>
<text x="459.5" y="694.5" font-size="10">MSC</text>
<text x="391.7" y="514.2" font-size="10" font-weight="bold" font-style="italic">POSTN</text>
<rect x="315.95" y="505" width="7.7" height="12" fill="#f0080c" stroke="#111" stroke-width="0.9"/>
<path d="M315.95 511.2H323.65" stroke="#000" stroke-width="2.3"/>
<rect x="332.04" y="504.2" width="7.7" height="7" fill="#2a3cf2" stroke="#111" stroke-width="0.9"/>
<path d="M332.04 508.7H339.74" stroke="#000" stroke-width="2.3"/>
<path d="M351.98 503.7V505" stroke="#2a2a2a" stroke-width="0.9" stroke-dasharray="2.6 2.5" fill="none"/>
<path d="M349.68 503.7H354.28" stroke="#2a2a2a" stroke-width="1.1"/>
<path d="M351.98 517.5V515" stroke="#2a2a2a" stroke-width="0.9" stroke-dasharray="2.6 2.5" fill="none"/>
<path d="M349.68 517.5H354.28" stroke="#2a2a2a" stroke-width="1.1"/>
<rect x="348.13" y="505" width="7.7" height="10" fill="#0a640f" stroke="#111" stroke-width="0.9"/>
<path d="M348.13 509.5H355.83" stroke="#000" stroke-width="2.3"/>
<path d="M368.07 508.2V511.7" stroke="#2a2a2a" stroke-width="0.9" stroke-dasharray="2.6 2.5" fill="none"/>
<path d="M365.77 508.2H370.37" stroke="#2a2a2a" stroke-width="1.1"/>
<path d="M368.07 554.2V534.5" stroke="#2a2a2a" stroke-width="0.9" stroke-dasharray="2.6 2.5" fill="none"/>
<path d="M365.77 554.2H370.37" stroke="#2a2a2a" stroke-width="1.1"/>
<rect x="364.22" y="511.7" width="7.7" height="22.8" fill="#ffe000" stroke="#111" stroke-width="0.9"/>
<path d="M364.22 515.5H371.92" stroke="#000" stroke-width="2.3"/>
<rect x="380.31" y="664.2" width="7.7" height="5.3" fill="#f0080c" stroke="#111" stroke-width="0.9"/>
<path d="M380.31 666.7H388.01" stroke="#000" stroke-width="2.3"/>
<path d="M400.25 673.7V671.7" stroke="#2a2a2a" stroke-width="0.9" stroke-dasharray="2.6 2.5" fill="none"/>
<path d="M397.95 673.7H402.55" stroke="#2a2a2a" stroke-width="1.1"/>
<rect x="396.4" y="666.7" width="7.7" height="5" fill="#2a3cf2" stroke="#111" stroke-width="0.9"/>
<path d="M396.4 669.2H404.1" stroke="#000" stroke-width="2.3"/>
<path d="M416.34 673.7V668.7" stroke="#2a2a2a" stroke-width="0.9" stroke-dasharray="2.6 2.5" fill="none"/>
<path d="M414.04 673.7H418.64" stroke="#2a2a2a" stroke-width="1.1"/>
<rect x="412.49" y="663.7" width="7.7" height="5" fill="#0a640f" stroke="#111" stroke-width="0.9"/>
<path d="M412.49 666.2H420.19" stroke="#000" stroke-width="2.3"/>
<path d="M432.43 665V667" stroke="#2a2a2a" stroke-width="0.9" stroke-dasharray="2.6 2.5" fill="none"/>
<path d="M430.13 665H434.73" stroke="#2a2a2a" stroke-width="1.1"/>
<rect x="428.58" y="667" width="7.7" height="4.7" fill="#ffe000" stroke="#111" stroke-width="0.9"/>
<path d="M428.58 669.2H436.28" stroke="#000" stroke-width="2.3"/>
<rect x="444.67" y="512.5" width="7.7" height="3" fill="#700a0a" stroke="#111" stroke-width="0.9"/>
<path d="M444.67 514H452.37" stroke="#4a0000" stroke-width="2.3"/>
<path d="M464.61 511.5V507.5" stroke="#2a2a2a" stroke-width="0.9" stroke-dasharray="2.6 2.5" fill="none"/>
<path d="M462.31 511.5H466.91" stroke="#2a2a2a" stroke-width="1.1"/>
<rect x="460.76" y="501.9" width="7.7" height="5.6" fill="#2a3cf2" stroke="#111" stroke-width="0.9"/>
<path d="M460.76 502.8H468.46" stroke="#000" stroke-width="2.3"/>
<rect x="476.85" y="503" width="7.7" height="11.2" fill="#0a640f" stroke="#111" stroke-width="0.9"/>
<path d="M476.85 504.2H484.55" stroke="#000" stroke-width="2.3"/>
<rect x="492.94" y="513.2" width="7.7" height="1.8" fill="#7a6a00" stroke="#111" stroke-width="0.9"/>
<path d="M492.94 514.1H500.64" stroke="#3a3000" stroke-width="2.3"/>
<rect x="333.7" y="539.2" width="2.6" height="3" fill="#000"/>
<rect x="398.7" y="656.5" width="2.6" height="3" fill="#000"/>
<rect x="414.4" y="651.5" width="2.6" height="3" fill="#000"/>
</g>
<rect x="0" y="0" width="520" height="1" fill="#555"/>
<rect x="0" y="0" width="1" height="716" fill="#555"/>
<rect x="1" y="1" width="517" height="1" fill="#a2a2a2"/>
<rect x="1" y="1" width="1" height="713" fill="#a2a2a2"/>
<rect x="517" y="2" width="1" height="712" fill="#e2e2e2"/>
<rect x="2" y="713" width="516" height="1" fill="#e2e2e2"/>
<rect x="518" y="1" width="1" height="715" fill="#7a7a7a"/>
<rect x="1" y="714" width="519" height="1" fill="#7a7a7a"/>
<rect x="519" y="0" width="1" height="716" fill="#9a9a9a"/>
<rect x="0" y="715" width="520" height="1" fill="#9a9a9a"/>
</svg>
</div>
</body></html>
